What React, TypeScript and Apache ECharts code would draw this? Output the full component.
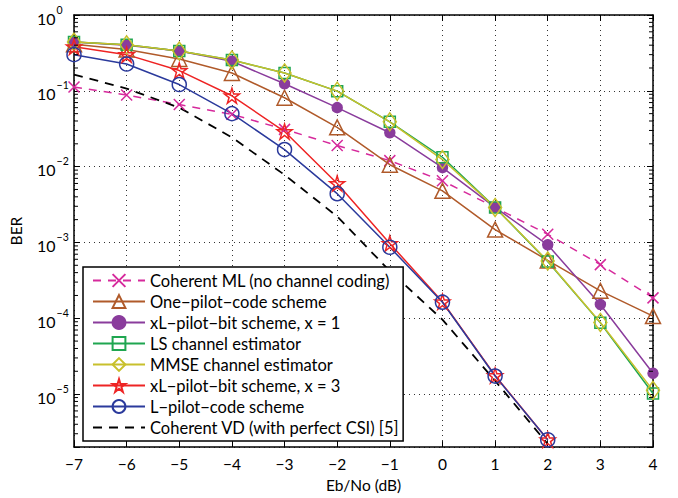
import React, { useEffect, useRef } from "react";
import * as echarts from "echarts";

const ebNo = [-7, -6, -5, -4, -3, -2, -1, 0, 1, 2, 3, 4];
const coherentML = [0.112, 0.088, 0.066, 0.049, 0.031, 0.019, 0.012, 0.0065, 0.0029, 0.00128, 0.00051, 0.000186];
const onePilot = [0.41, 0.35, 0.263, 0.172, 0.081, 0.033, 0.0106, 0.0048, 0.00148, 0.00058, 0.00023, 0.000107];
const xL1 = [0.44, 0.4, 0.335, 0.245, 0.124, 0.06, 0.028, 0.0097, 0.0029, 0.00093, 0.000152, 0.0000188];
const lsEst = [0.44, 0.405, 0.335, 0.255, 0.172, 0.099, 0.039, 0.0133, 0.0029, 0.00056, 0.000087, 0.0000102];
const mmseEst = [0.44, 0.405, 0.335, 0.255, 0.172, 0.099, 0.039, 0.0124, 0.0029, 0.00057, 0.000088, 0.0000112];
const xL3 = [0.38, 0.3, 0.185, 0.086, 0.029, 0.006, 0.00097, 0.000165, 0.0000176, 0.0000025];
const lPilot = [0.3, 0.226, 0.121, 0.05, 0.0168, 0.0044, 0.000865, 0.000163, 0.0000173, 0.0000025];
const coherentVD = [0.164, 0.107, 0.06, 0.0243, 0.0078, 0.0022, 0.00042, 0.000096, 0.000015, 0.0000022];

const names = [
  "Coherent ML (no channel coding)",
  "One\u2212pilot\u2212code scheme",
  "xL\u2212pilot\u2212bit scheme, x = 1",
  "LS channel estimator",
  "MMSE channel estimator",
  "xL\u2212pilot\u2212bit scheme, x = 3",
  "L\u2212pilot\u2212code scheme",
  "Coherent VD (with perfect CSI) [5]",
];

const yMin = 2e-6;
const yMax = 1;
const FONT = "Lato";

const X_PATH = "path://M0,0L10,10M0,10L10,0";
const STAR_PATH =
  "path://M50,2 L61,37 L98,37 L68,59 L79,94 L50,72 L21,94 L32,59 L2,37 L39,37 Z";

function pairs(vals: number[]) {
  return vals.map((v, i) => [ebNo[i], v]);
}

const minorTickValues: number[] = [];
for (let e = -6; e <= -1; e++) {
  for (let k = 2; k <= 9; k++) {
    const v = k * Math.pow(10, e);
    if (v > yMin * 1.01) minorTickValues.push(v);
  }
}

function supLabel(v: number) {
  const lg = Math.log10(v);
  const e = Math.round(lg);
  if (Math.abs(lg - e) > 0.01) return "";
  const sup = e === 0 ? "0" : "\u2212" + -e;
  return "{b|10}{s|" + sup + "}";
}

export default function App() {
  const ref = useRef<HTMLDivElement>(null);
  useEffect(() => {
    if (!ref.current) return;
    const chart = echarts.init(ref.current, undefined, { renderer: "svg" });

    const mk = (
      name: string,
      vals: number[],
      color: string,
      symbol: string,
      size: number | number[],
      filled: boolean,
      dashed?: number[],
      width = 1.5
    ) => ({
      name,
      type: "line",
      data: pairs(vals),
      symbol,
      symbolSize: size,
      showSymbol: symbol !== "none",
      color,
      lineStyle: { color, width, type: dashed ? dashed : "solid" },
      itemStyle:
        symbol === "none"
          ? { color: "rgba(0,0,0,0)", borderColor: "rgba(0,0,0,0)", borderWidth: 0 }
          : {
              color: filled ? color : "rgba(0,0,0,0)",
              borderColor: color,
              borderWidth: 1.5,
            },
      emphasis: { disabled: true },
    });

    const option: any = {
      animation: false,
      textStyle: { fontFamily: FONT, color: "#000" },
      grid: { left: 74, right: 25, top: 15, bottom: 49, containLabel: false },
      legend: {
        orient: "vertical",
        left: 83,
        top: 267,
        data: names,
        itemWidth: 52,
        itemHeight: 16,
        itemGap: 4,
        padding: [5, 4, 5, 9],
        backgroundColor: "#fff",
        borderColor: "#000",
        borderWidth: 1.5,
        borderRadius: 0,
        textStyle: { fontFamily: FONT, fontSize: 16.5, color: "#000", lineHeight: 16 },
        selectedMode: false,
      },
      xAxis: [
        {
          type: "value",
          min: -7,
          max: 4,
          interval: 1,
          name: "Eb/No (dB)",
          nameLocation: "middle",
          nameGap: 29,
          nameTextStyle: { fontFamily: FONT, fontSize: 15.5, color: "#000" },
          axisLine: { onZero: false, lineStyle: { color: "#000", width: 1.5 } },
          axisTick: { inside: true, length: 6, lineStyle: { color: "#000", width: 1 } },
          axisLabel: {
            margin: 9,
            fontFamily: FONT,
            fontSize: 15.5,
            color: "#000",
            formatter: (v: number) => (v < 0 ? "\u2212" + -v : String(v)),
          },
          splitLine: { show: true, lineStyle: { color: "#333", width: 1, type: [1, 4] } },
        },
        {
          type: "value",
          position: "top",
          min: -7,
          max: 4,
          interval: 1,
          axisLine: { onZero: false, lineStyle: { color: "#000", width: 1.5 } },
          axisTick: { inside: true, length: 6, lineStyle: { color: "#000", width: 1 } },
          axisLabel: { show: false },
          splitLine: { show: false },
        },
      ],
      yAxis: [
        {
          type: "log",
          logBase: 10,
          min: yMin,
          max: yMax,
          name: "BER",
          nameLocation: "middle",
          nameGap: 50,
          nameTextStyle: { fontFamily: FONT, fontSize: 15.5, color: "#000" },
          axisLine: { onZero: false, lineStyle: { color: "#000", width: 1.5 } },
          axisTick: { inside: true, length: 6, lineStyle: { color: "#000", width: 1 } },
          axisLabel: {
            margin: 37,
            align: "left",
            formatter: supLabel,
            rich: {
              b: { fontFamily: FONT, fontSize: 16, color: "#000", lineHeight: 22, verticalAlign: "bottom" },
              s: { fontFamily: FONT, fontSize: 10.5, color: "#000", lineHeight: 22, verticalAlign: "top", padding: [0, 0, 0, 1] },
            },
          },
          splitLine: { show: true, lineStyle: { color: "#333", width: 1, type: [1, 4] } },
        },
        {
          type: "log",
          logBase: 10,
          position: "right",
          min: yMin,
          max: yMax,
          axisLine: { onZero: false, lineStyle: { color: "#000", width: 1.5 } },
          axisTick: { inside: true, length: 6, lineStyle: { color: "#000", width: 1 } },
          axisLabel: { show: false },
          splitLine: { show: false },
        },
      ],
      series: [
        mk(names[0], coherentML, "#d62a9c", X_PATH, 11, false, [8, 7]),
        mk(names[1], onePilot, "#b05a2a", "triangle", 15, false),
        mk(names[2], xL1, "#8a3c9c", "circle", 10, true),
        mk(names[3], lsEst, "#1fa650", "rect", 11, false),
        mk(names[4], mmseEst, "#c8c02c", "diamond", [13, 18], false),
        mk(names[5], xL3, "#ee2424", STAR_PATH, 15, false),
        mk(names[6], lPilot, "#2b3a9c", "circle", 14, false),
        mk(names[7], coherentVD, "#000000", "none", 1, true, [9, 7], 1.8),
        {
          type: "custom",
          name: "minorTicks",
          silent: true,
          data: minorTickValues.map((v) => [-7, v]),
          encode: { x: 0, y: 1 },
          z: 5,
          renderItem: (params: any, api: any) => {
            const v = api.value(1);
            const pt = api.coord([-7, v]);
            const cs = params.coordSys;
            return {
              type: "group",
              children: [
                {
                  type: "line",
                  shape: { x1: cs.x, y1: pt[1], x2: cs.x + 4, y2: pt[1] },
                  style: { stroke: "#000", lineWidth: 1 },
                },
                {
                  type: "line",
                  shape: { x1: cs.x + cs.width, y1: pt[1], x2: cs.x + cs.width - 4, y2: pt[1] },
                  style: { stroke: "#000", lineWidth: 1 },
                },
              ],
            };
          },
        },
      ],
    };
    chart.setOption(option);
    return () => chart.dispose();
  }, []);
  return (
    <div
      ref={ref}
      style={{ position: "fixed", left: 0, top: 0, width: 678, height: 498, background: "#fff" }}
    />
  );
}
